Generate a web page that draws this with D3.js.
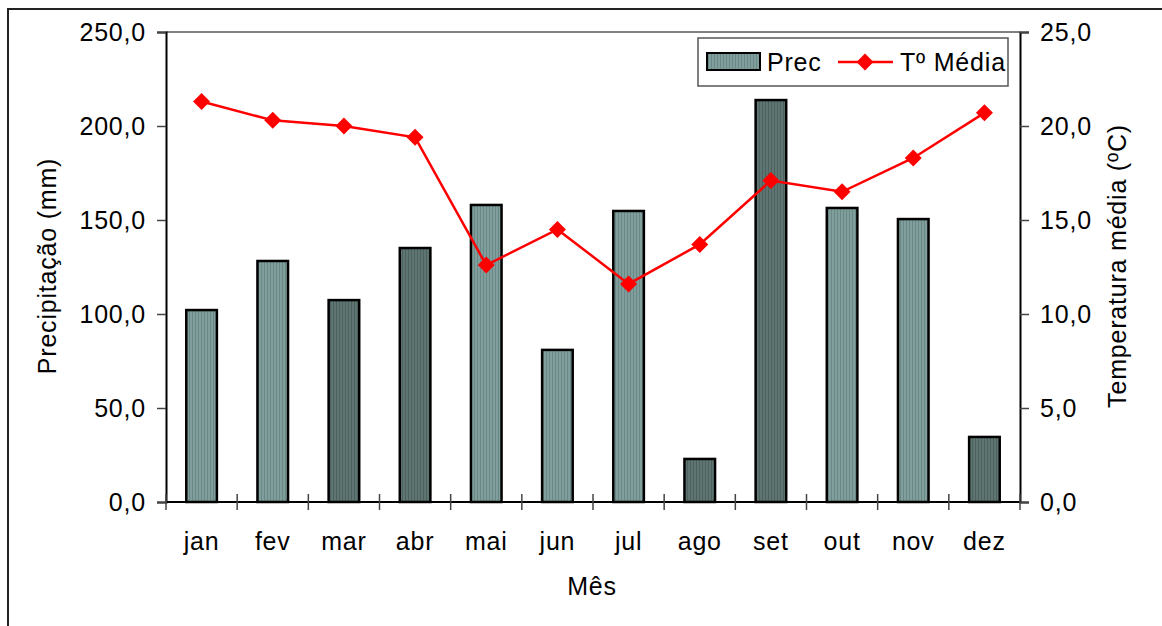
<!DOCTYPE html>
<html>
<head>
<meta charset="utf-8">
<script src="https://cdn.jsdelivr.net/npm/d3@7"></script>
<style>
  html, body { margin: 0; padding: 0; background: #fff; }
  svg { display: block; font-family: "Liberation Sans", Arial, sans-serif; }
</style>
</head>
<body>
<svg id="chart" width="1162" height="626"></svg>
<script>
// ---- data ----
const months = ["jan","fev","mar","abr","mai","jun","jul","ago","set","out","nov","dez"];
const precipitation = [102.1, 128.2, 107.4, 135.1, 158.0, 80.9, 154.8, 22.9, 213.8, 156.4, 150.5, 34.6];
const temperature = [21.3, 20.3, 20.0, 19.4, 12.6, 14.5, 11.6, 13.7, 17.1, 16.5, 18.3, 20.7];
const leftTicks = [0, 50, 100, 150, 200, 250];
const rightTicks = [0, 5, 10, 15, 20, 25];

// ---- style ----
const darkBars = new Set(["mar","abr","ago","set","dez"]);
const plot = {left: 166, right: 1020, top: 32, bottom: 502};
const fontSize = 25;
const spacing = "0.8px";

const svg = d3.select("#chart");
const defs = svg.append("defs");
function stripes(id, base, stripe) {
  const p = defs.append("pattern").attr("id", id).attr("patternUnits", "userSpaceOnUse")
    .attr("width", 3).attr("height", 10);
  p.append("rect").attr("width", 3).attr("height", 10).attr("fill", base);
  p.append("rect").attr("width", 1).attr("height", 10).attr("fill", stripe);
}
stripes("light", "#7f9e9c", "#6a8886");
stripes("dark", "#5f7572", "#4d625f");

// outer frame
svg.append("rect").attr("x", 8).attr("y", 9).attr("width", 1300).attr("height", 800)
  .attr("fill", "none").attr("stroke", "#222").attr("stroke-width", 2);

const x = d3.scaleBand().domain(months).range([plot.left, plot.right]);
const yL = d3.scaleLinear().domain([0, 250]).range([plot.bottom, plot.top]);
const yR = d3.scaleLinear().domain([0, 25]).range([plot.bottom, plot.top]);
const fmt = d => d.toFixed(1).replace(".", ",");

// plot top border
svg.append("line").attr("x1", plot.left).attr("x2", plot.right).attr("y1", plot.top).attr("y2", plot.top)
  .attr("stroke", "#808080").attr("stroke-width", 2);

// bars
const bw = x.bandwidth() * 0.43;
svg.append("g").selectAll("rect").data(months).join("rect")
  .attr("x", d => x(d) + x.bandwidth() / 2 - bw / 2)
  .attr("y", (d, i) => yL(precipitation[i]))
  .attr("width", bw)
  .attr("height", (d, i) => yL(0) - yL(precipitation[i]))
  .attr("fill", d => darkBars.has(d) ? "url(#dark)" : "url(#light)")
  .attr("stroke", "#000").attr("stroke-width", 2.5);

// left axis
const gL = svg.append("g").attr("transform", `translate(${plot.left},0)`)
  .call(d3.axisLeft(yL).tickValues(leftTicks).tickFormat(fmt).tickSize(9).tickPadding(11));
// right axis
const gR = svg.append("g").attr("transform", `translate(${plot.right},0)`)
  .call(d3.axisRight(yR).tickValues(rightTicks).tickFormat(fmt).tickSize(9).tickPadding(11));
// bottom axis
const gB = svg.append("g").attr("transform", `translate(0,${plot.bottom})`)
  .call(d3.axisBottom(x).tickSize(0).tickPadding(30));
[gL, gR, gB].forEach(g => {
  g.select(".domain").attr("stroke", "#000").attr("stroke-width", 2);
  g.selectAll(".tick line").attr("stroke", "#444").attr("stroke-width", 1.5);
  g.selectAll("text").attr("font-size", fontSize).attr("fill", "#000").attr("letter-spacing", spacing)
    .attr("font-family", '"Liberation Sans", Arial, sans-serif');
});
gB.select(".domain").attr("d", `M${plot.left},0H${plot.right}`);
// category boundary ticks
svg.append("g").selectAll("line").data(months.concat(["_end"])).join("line")
  .attr("x1", (d, i) => plot.left + i * x.step()).attr("x2", (d, i) => plot.left + i * x.step())
  .attr("y1", plot.bottom - 8).attr("y2", plot.bottom + 8)
  .attr("stroke", "#444").attr("stroke-width", 1.5);

// temperature line
svg.append("path").datum(temperature)
  .attr("d", d3.line().x((d, i) => x(months[i]) + x.bandwidth() / 2).y(d => yR(d)))
  .attr("fill", "none").attr("stroke", "#ff0000").attr("stroke-width", 2.5);
const diamond = "M0,-8.5L8.5,0L0,8.5L-8.5,0Z";
svg.append("g").selectAll("path").data(temperature).join("path")
  .attr("transform", (d, i) => `translate(${x(months[i]) + x.bandwidth() / 2},${yR(d)})`)
  .attr("d", diamond).attr("fill", "#ff0000");

// axis titles
svg.append("text").attr("x", 592).attr("y", 595).attr("text-anchor", "middle")
  .attr("font-size", fontSize).attr("letter-spacing", spacing).text("Mês");
svg.append("text").attr("transform", "translate(56,266) rotate(-90)").attr("text-anchor", "middle")
  .attr("font-size", fontSize).attr("letter-spacing", spacing).text("Precipitação (mm)");
svg.append("text").attr("transform", "translate(1126,266) rotate(-90)").attr("text-anchor", "middle")
  .attr("font-size", fontSize).attr("letter-spacing", spacing).text("Temperatura média (ºC)");

// legend
const lg = svg.append("g");
lg.append("rect").attr("x", 698).attr("y", 38).attr("width", 310).attr("height", 48)
  .attr("fill", "#fff").attr("stroke", "#555").attr("stroke-width", 1.5);
lg.append("rect").attr("x", 707).attr("y", 53).attr("width", 53).attr("height", 17)
  .attr("fill", "url(#light)").attr("stroke", "#000").attr("stroke-width", 2);
lg.append("text").attr("x", 767).attr("y", 71).attr("font-size", fontSize).attr("letter-spacing", spacing).text("Prec");
lg.append("line").attr("x1", 838).attr("x2", 893).attr("y1", 62).attr("y2", 62)
  .attr("stroke", "#ff0000").attr("stroke-width", 2.5);
lg.append("path").attr("transform", "translate(865,62)").attr("d", diamond).attr("fill", "#ff0000");
lg.append("text").attr("x", 900).attr("y", 71).attr("font-size", fontSize).attr("letter-spacing", spacing).text("Tº Média");
</script>
</body>
</html>
